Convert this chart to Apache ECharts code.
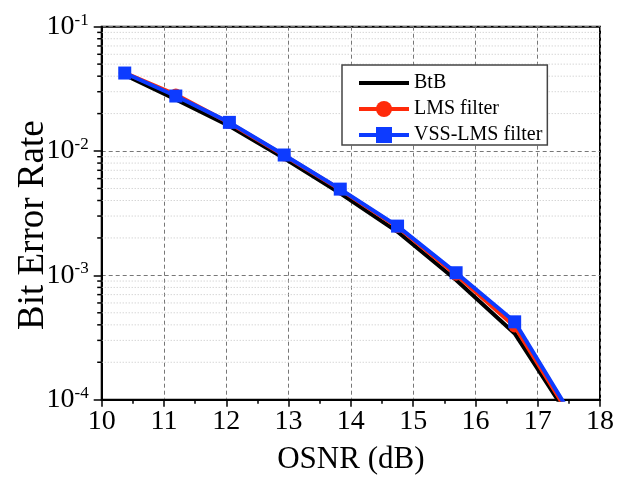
<!DOCTYPE html>
<html>
<head>
<meta charset="utf-8">
<script src="https://cdn.jsdelivr.net/npm/echarts@6/dist/echarts.min.js"></script>
<style>html,body{margin:0;padding:0;background:#fff;}#c{width:634px;height:480px;}</style>
</head>
<body>
<div id="c"></div>
<script>
// ---- data ----
const xTickLabels = ['10','11','12','13','14','15','16','17','18'];
const yTickExponents = ['-4','-3','-2','-1'];

const btbX   = [10.37, 11.19, 12.05, 12.93, 13.83, 14.75, 15.69, 16.63, 17.5];
const btbY   = [0.0410, 0.0260, 0.0159, 0.00873, 0.00457, 0.00224, 0.000917, 0.000341, 0.0000726];

const lmsX   = [10.37, 11.19, 12.05, 12.93, 13.83, 14.75, 15.69, 16.63, 17.5];
const lmsY   = [0.0425, 0.0285, 0.0168, 0.0092, 0.0049, 0.00245, 0.00101, 0.000388, 0.0000770];

const vssX   = [10.37, 11.19, 12.05, 12.93, 13.83, 14.75, 15.69, 16.63, 17.5];
const vssY   = [0.0424, 0.0277, 0.0170, 0.00929, 0.00494, 0.00249, 0.00105, 0.000423, 0.0000810];

const seriesNames = ['BtB', 'LMS filter', 'VSS-LMS filter'];

// minor log gridline values (2..9 x each decade)
const minorDecades = [-4, -3, -2];
const minorMultipliers = [2, 3, 4, 5, 6, 7, 8, 9];

const pair = (xs, ys) => xs.map((x, i) => [x, ys[i]]);
const minorData = [];
minorDecades.forEach(d => minorMultipliers.forEach(m => minorData.push([10, m * Math.pow(10, d)])));

const FONT = 'Liberation Serif';
const chart = echarts.init(document.getElementById('c'), null, {renderer: 'canvas'});

chart.setOption({
  animation: false,
  backgroundColor: '#fff',
  grid: {
    left: 101.7, top: 26.7, right: 34, bottom: 80.3,
    containLabel: false,
    outerBoundsMode: 'none',
    show: true, borderColor: '#000', borderWidth: 2, backgroundColor: 'transparent'
  },
  legend: {
    data: [
      {name: seriesNames[0], itemStyle: {opacity: 0}},
      {name: seriesNames[1]},
      {name: seriesNames[2]}
    ],
    orient: 'vertical',
    left: 342, top: 65,
    padding: [8, 5, 0, 15],
    itemGap: 6,
    itemWidth: 50,
    itemHeight: 20,
    borderColor: '#444',
    borderWidth: 1.5,
    borderRadius: 0,
    backgroundColor: '#fff',
    lineStyle: {width: 4},
    textStyle: {fontFamily: FONT, fontSize: 20, color: '#000', lineHeight: 20},
    selectedMode: false
  },
  xAxis: {
    type: 'value',
    min: 10, max: 18, interval: 1,
    name: 'OSNR (dB)',
    nameLocation: 'middle',
    nameGap: 45,
    nameMoveOverlap: false,
    nameTextStyle: {fontFamily: FONT, fontSize: 31, color: '#000'},
    axisLine: {lineStyle: {color: '#000', width: 2}},
    axisTick: {show: true, inside: false, length: 7, lineStyle: {color: '#000', width: 1.5}},
    minorTick: {show: true, splitNumber: 2, length: 4, lineStyle: {color: '#000', width: 1.5}},
    axisLabel: {
      fontFamily: FONT, fontSize: 28, color: '#000', margin: 8,
      formatter: v => xTickLabels[Math.round(v - 10)]
    },
    splitLine: {show: true, lineStyle: {color: '#777', width: 1, type: [4, 3]}}
  },
  yAxis: {
    type: 'log',
    logBase: 10,
    min: 1e-4, max: 1e-1, interval: 1,
    name: 'Bit Error Rate',
    nameLocation: 'middle',
    nameGap: 50,
    nameMoveOverlap: false,
    nameTextStyle: {fontFamily: FONT, fontSize: 37, color: '#000', padding: [0, 24, 0, 0]},
    axisLine: {lineStyle: {color: '#000', width: 2}},
    axisTick: {show: true, inside: false, length: 8, lineStyle: {color: '#000', width: 1.5}},
    axisLabel: {
      margin: 13,
      formatter: v => {
        const e = Math.round(Math.log10(v));
        const lab = yTickExponents[e + 4];
        return '{b|10}{s|' + lab + '}';
      },
      rich: {
        b: {fontFamily: FONT, fontSize: 28, color: '#000', lineHeight: 30},
        s: {fontFamily: FONT, fontSize: 17, color: '#000', verticalAlign: 'top', lineHeight: 18}
      }
    },
    splitLine: {show: true, lineStyle: {color: '#777', width: 1, type: [4, 3]}}
  },
  series: [
    {
      type: 'custom',
      name: 'minorgrid',
      silent: true,
      clip: false,
      z: 1,
      data: minorData,
      encode: {x: 0, y: 1},
      renderItem: function (params, api) {
        const cs = params.coordSys;
        const y = api.coord([api.value(0), api.value(1)])[1];
        return {
          type: 'group',
          children: [
            {type: 'line', shape: {x1: cs.x, y1: y, x2: cs.x + cs.width, y2: y},
             style: {stroke: '#c4c4c4', lineWidth: 1, lineDash: [1, 2]}},
            {type: 'line', shape: {x1: cs.x - 4.5, y1: y, x2: cs.x, y2: y},
             style: {stroke: '#000', lineWidth: 1.5}}
          ]
        };
      }
    },
    {
      name: 'BtB', type: 'line', z: 3,
      data: pair(btbX, btbY),
      symbol: 'none',
      clip: true,
      lineStyle: {color: '#000', width: 4},
      itemStyle: {color: '#000'}
    },
    {
      name: 'LMS filter', type: 'line', z: 4,
      data: pair(lmsX, lmsY),
      symbol: 'circle', symbolSize: 12,
      clip: true,
      lineStyle: {color: '#ff2a0a', width: 4},
      itemStyle: {color: '#ff2a0a'}
    },
    {
      name: 'VSS-LMS filter', type: 'line', z: 5,
      data: pair(vssX, vssY),
      symbol: 'rect', symbolSize: 13,
      clip: true,
      lineStyle: {color: '#0d3bff', width: 4},
      itemStyle: {color: '#0d3bff'}
    }
  ]
});
</script>
</body>
</html>
